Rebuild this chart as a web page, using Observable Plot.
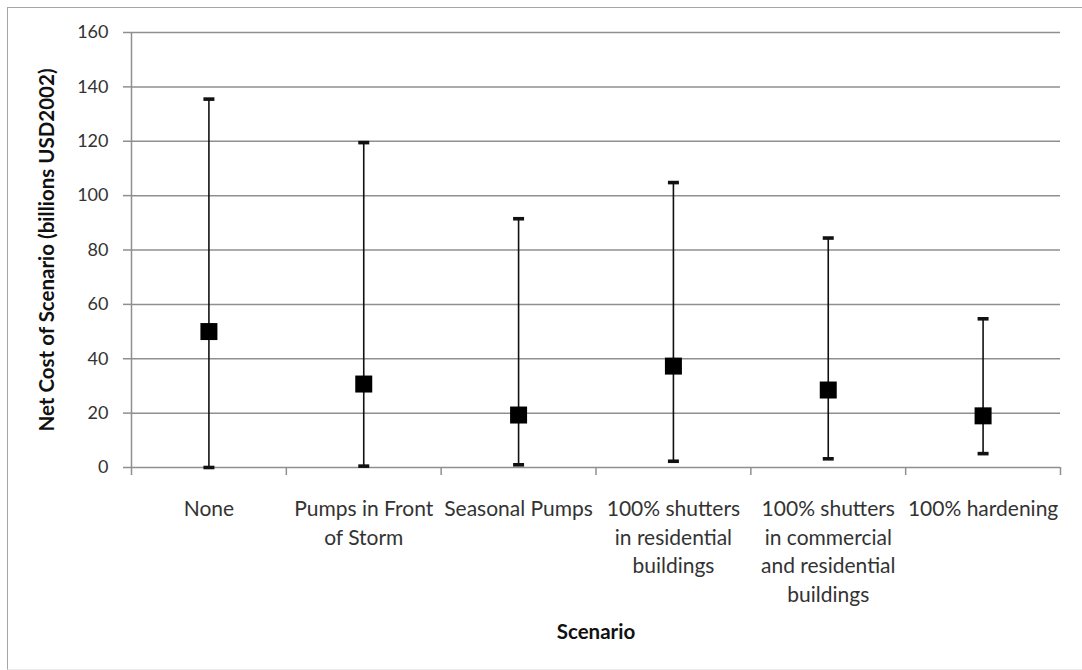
<!DOCTYPE html>
<html>
<head>
<meta charset="utf-8">
<script src="https://cdn.jsdelivr.net/npm/d3@7"></script>
<script src="https://cdn.jsdelivr.net/npm/@observablehq/plot@0.6"></script>
<style>
  html, body { margin: 0; padding: 0; background: #fff; overflow: hidden; }
  #wrap { position: relative; width: 1082px; height: 670px; }
  #border { position: absolute; left: 7px; top: 7px; width: 1100px; height: 661px;
            border-left: 1.5px solid #a6a6a6; border-top: 1.5px solid #a6a6a6; border-bottom: 1px solid #ececec;
            pointer-events: none; }
  svg { font-family: Lato, "Open Sans", sans-serif; }
</style>
</head>
<body>
<div id="wrap"><div id="chart"></div><div id="border"></div></div>
<script>
const categories = ["None", "Pumps in Front of Storm", "Seasonal Pumps",
  "100% shutters in residential buildings",
  "100% shutters in commercial and residential buildings", "100% hardening"];
const tickLabels = ["None", "Pumps in Front\nof Storm", "Seasonal Pumps",
  "100% shutters\nin residential\nbuildings",
  "100% shutters\nin commercial\nand residential\nbuildings", "100% hardening"];
const meanCost = [50, 30.7, 19.3, 37.3, 28.5, 19];
const lowCost = [0, 0.5, 1, 2.3, 3.2, 5.1];
const highCost = [135.5, 119.5, 91.5, 104.8, 84.4, 54.7];
const yTicks = [0, 20, 40, 60, 80, 100, 120, 140, 160];
const yTitle = "Net Cost of Scenario (billions USD2002)";
const xTitle = "Scenario";

const data = categories.map((c, i) => ({
  name: c, label: tickLabels[i], pos: i + 0.5,
  mean: meanCost[i], low: lowCost[i], high: highCost[i]
}));
const boundaries = d3.range(0, categories.length + 1);

const grid = "#8f8f8f";
const capSymbol = { draw(ctx) { ctx.moveTo(-5.5, -1.8); ctx.lineTo(5.5, -1.8); ctx.lineTo(5.5, 1.8); ctx.lineTo(-5.5, 1.8); ctx.closePath(); } };
const squareSymbol = { draw(ctx) { ctx.moveTo(-8.5, -8.5); ctx.lineTo(8.5, -8.5); ctx.lineTo(8.5, 8.5); ctx.lineTo(-8.5, 8.5); ctx.closePath(); } };

const chart = Plot.plot({
  width: 1082,
  height: 670,
  marginLeft: 131,
  marginRight: 22,
  marginTop: 32,
  marginBottom: 203,
  style: { fontFamily: "Lato, 'Open Sans', sans-serif", background: "transparent" },
  x: { domain: [0, categories.length] },
  y: { domain: [0, 160] },
  marks: [
    Plot.ruleY(yTicks, { stroke: grid, strokeWidth: 1.5 }),
    Plot.ruleX([0], { stroke: grid, strokeWidth: 1.5 }),
    Plot.axisY({ ticks: yTicks, tickSize: 8, tickPadding: 15, stroke: grid, strokeWidth: 1.5, fontSize: 18, fill: "#333", label: null }),
    Plot.axisX({ ticks: boundaries, tickSize: 8, stroke: grid, strokeWidth: 1.5, tickFormat: () => "", label: null }),
    Plot.ruleX(data, { x: "pos", y1: "low", y2: "high", stroke: "#111", strokeWidth: 1.6 }),
    Plot.dot(data, { x: "pos", y: "high", symbol: capSymbol, fill: "#111", stroke: null }),
    Plot.dot(data, { x: "pos", y: "low", symbol: capSymbol, fill: "#111", stroke: null }),
    Plot.dot(data, { x: "pos", y: "mean", symbol: squareSymbol, fill: "#000", stroke: null }),
    Plot.text(data, { x: "pos", y: 0, text: "label", lineAnchor: "top", dy: 28.5, fontSize: 21, lineHeight: 1.36, fill: "#333" }),
    Plot.text([yTitle], { frameAnchor: "left", textAnchor: "middle", lineAnchor: "middle", rotate: -90, dx: -84, fontSize: 20.5, fontWeight: "bold", fill: "#111" }),
    Plot.text([xTitle], { frameAnchor: "bottom", textAnchor: "middle", lineAnchor: "middle", dy: 165, fontSize: 20.5, fontWeight: "bold", fill: "#111" })
  ]
});
document.getElementById("chart").appendChild(chart);
</script>
</body>
</html>
